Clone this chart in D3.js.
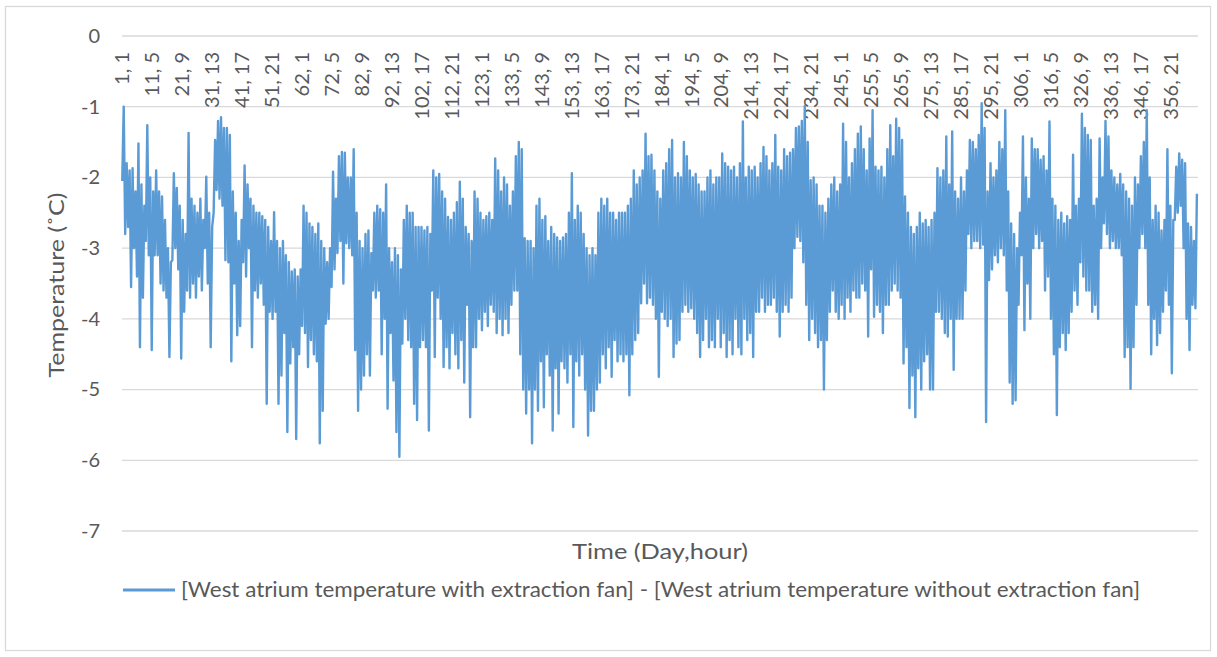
<!DOCTYPE html>
<html>
<head>
<meta charset="utf-8">
<script src="https://cdn.jsdelivr.net/npm/d3@7"></script>
<style>
  html, body { margin: 0; padding: 0; background: #ffffff; }
  svg text { font-family: Lato, "Open Sans", sans-serif; fill: #595959; }
</style>
</head>
<body>
<svg id="chart" width="1217" height="657"></svg>
<script>
// ---- data ----
const yTicks = [0, -1, -2, -3, -4, -5, -6, -7];
const tickLabels = ["1, 1","11, 5","21, 9","31, 13","41, 17","51, 21","62, 1","72, 5","82, 9","92, 13",
  "102, 17","112, 21","123, 1","133, 5","143, 9","153, 13","163, 17","173, 21","184, 1","194, 5",
  "204, 9","214, 13","224, 17","234, 21","245, 1","255, 5","265, 9","275, 13","285, 17","295, 21",
  "306, 1","316, 5","326, 9","336, 13","346, 17","356, 21"];
const hoursPerYear = 8760;
const tickStep = 244; // categories between labels
const seriesName = "[West atrium temperature with extraction fan] - [West atrium temperature without extraction fan]";

// daily maximum of the hourly series (one value per day, day 1..365)
const dailyHigh = [
 -1.0,-1.8,-1.9,-1.87,-2.2,-1.52,-2.1,-2.4,-1.26,-2.0,
 -2.2,-1.9,-2.2,-2.27,-2.6,-3.0,-3.2,-1.94,-2.15,-2.4,
 -2.6,-2.8,-1.37,-2.3,-2.4,-2.5,-2.3,-2.6,-1.99,-2.5,
 -2.7,-1.47,-1.2,-1.15,-1.3,-1.3,-1.4,-2.2,-2.5,-2.9,
 -2.6,-1.83,-2.1,-2.3,-2.4,-2.5,-2.5,-2.55,-2.6,-2.7,
 -2.9,-2.49,-2.9,-3.0,-2.9,-3.1,-3.2,-3.33,-3.3,-3.4,
 -3.3,-2.4,-2.5,-2.65,-2.7,-2.8,-2.65,-2.9,-3.0,-3.2,
 -3.0,-1.92,-2.3,-1.7,-1.64,-1.65,-2.0,-2.0,-1.6,-2.5,
 -2.9,-3.0,-2.8,-2.75,-3.07,-2.5,-2.4,-2.45,-2.5,-2.1,
 -3.0,-3.2,-3.0,-3.1,-3.3,-2.6,-2.4,-2.5,-2.5,-2.7,
 -2.7,-2.7,-2.75,-2.7,-2.8,-1.9,-2.0,-1.95,-2.2,-2.3,
 -2.56,-2.6,-2.5,-2.35,-2.06,-2.3,-2.7,-2.8,-2.9,-2.2,
 -2.3,-2.5,-2.6,-2.55,-2.5,-2.6,-1.73,-1.9,-2.2,-2.0,
 -2.1,-2.4,-2.2,-1.7,-1.5,-1.6,-2.86,-2.9,-2.9,-3.0,
 -2.4,-2.3,-2.6,-2.55,-2.9,-2.7,-2.8,-2.85,-2.9,-2.85,
 -2.8,-2.5,-1.94,-2.6,-2.4,-2.5,-2.8,-3.0,-3.1,-3.0,
 -3.1,-2.5,-2.3,-2.4,-2.3,-2.5,-2.5,-2.6,-2.5,-2.5,
 -2.5,-2.4,-2.3,-1.9,-2.1,-2.0,-1.9,-1.38,-1.7,-1.68,
 -1.9,-2.2,-2.3,-1.9,-1.8,-1.6,-1.47,-2.0,-1.94,-2.0,
 -1.5,-1.7,-1.9,-2.0,-1.95,-2.1,-2.2,-2.2,-2.0,-1.9,
 -2.1,-2.0,-2.0,-1.66,-1.8,-1.85,-1.9,-1.85,-2.0,-1.8,
 -1.21,-2.0,-1.85,-1.9,-1.85,-2.0,-1.8,-1.57,-1.7,-1.9,
 -1.8,-1.4,-1.85,-1.9,-1.6,-1.7,-1.65,-1.6,-1.3,-1.28,
 -1.2,-0.99,-1.5,-2.04,-2.0,-2.1,-2.4,-2.4,-2.5,-2.3,
 -2.1,-2.0,-2.2,-2.1,-1.24,-1.5,-2.0,-1.8,-1.6,-1.38,
 -1.28,-1.6,-1.9,-1.45,-1.05,-1.85,-1.9,-1.85,-2.0,-1.6,
 -1.26,-1.7,-1.17,-1.3,-1.47,-2.27,-2.5,-2.7,-2.8,-2.7,
 -2.5,-2.65,-2.6,-2.7,-2.6,-2.5,-1.87,-2.0,-1.9,-1.42,
 -2.1,-1.35,-2.2,-2.3,-2.0,-2.2,-1.9,-1.47,-1.5,-1.6,
 -1.4,-0.95,-1.3,-2.2,-1.8,-2.0,-1.9,-1.5,-1.6,-1.05,
 -2.2,-2.65,-2.8,-3.0,-2.5,-1.42,-2.0,-2.3,-1.45,-1.6,
 -1.6,-1.75,-1.7,-1.9,-1.21,-2.3,-2.4,-2.6,-2.5,-2.65,
 -2.55,-2.6,-1.68,-2.4,-2.3,-1.1,-1.3,-1.4,-1.47,-2.4,
 -2.3,-1.45,-2.0,-1.2,-1.42,-1.9,-2.0,-2.1,-1.95,-2.1,
 -2.2,-2.3,-2.4,-2.0,-2.1,-1.7,-1.5,-1.05,-2.0,-2.6,
 -2.4,-2.5,-2.75,-2.6,-1.6,-2.4,-2.6,-1.85,-1.66,-1.75,
 -1.8,-2.65,-2.7,-2.9,-2.23
];
// daily minimum of the hourly series
const dailyLow = [
 -2.05,-2.8,-2.7,-3.55,-3.0,-3.4,-4.4,-3.7,-2.9,-3.1,
 -4.44,-3.1,-3.1,-3.5,-3.6,-3.7,-4.54,-3.17,-3.0,-3.3,
 -4.56,-3.9,-3.6,-3.7,-3.5,-3.7,-3.4,-3.6,-3.0,-3.5,
 -4.4,-2.5,-2.18,-2.3,-2.4,-3.17,-3.2,-4.6,-3.5,-4.23,
 -4.1,-3.2,-3.4,-3.0,-4.4,-3.6,-3.7,-3.5,-3.8,-5.2,
 -3.9,-4.0,-3.9,-5.2,-4.8,-4.2,-5.6,-4.63,-4.4,-5.7,
 -4.5,-4.1,-4.2,-4.68,-4.3,-4.5,-4.6,-5.76,-5.3,-4.07,
 -4.0,-3.55,-3.3,-3.07,-2.9,-3.5,-2.93,-3.0,-3.1,-4.44,
 -5.3,-5.0,-4.8,-4.5,-4.8,-3.6,-3.7,-3.6,-4.5,-4.0,
 -5.27,-4.2,-4.87,-5.6,-5.95,-4.35,-4.0,-4.3,-4.4,-5.2,
 -5.43,-4.4,-4.3,-4.4,-5.58,-3.6,-4.54,-3.7,-4.0,-4.68,
 -4.4,-4.7,-4.2,-4.5,-4.7,-4.3,-4.9,-3.8,-5.39,-4.4,
 -4.4,-4.0,-4.16,-3.9,-4.1,-3.8,-3.9,-4.2,-4.0,-4.23,
 -4.0,-4.2,-3.8,-3.6,-3.6,-4.5,-5.0,-5.34,-5.0,-5.76,
 -5.0,-5.3,-4.6,-5.25,-4.5,-4.8,-5.58,-4.7,-5.34,-4.6,
 -4.7,-4.9,-4.5,-5.53,-4.6,-4.8,-4.5,-5.0,-5.65,-5.3,
 -5.3,-5.0,-4.9,-4.5,-4.7,-4.4,-4.82,-4.3,-4.6,-4.5,
 -4.6,-4.5,-5.08,-4.5,-4.3,-4.2,-3.78,-3.5,-3.78,-3.7,
 -3.8,-4.0,-4.82,-3.9,-4.0,-4.1,-4.0,-4.54,-4.35,-4.3,
 -3.9,-3.8,-3.9,-3.85,-4.0,-4.2,-4.54,-4.3,-4.0,-4.4,
 -4.3,-4.4,-4.0,-4.4,-4.2,-4.54,-4.3,-4.5,-4.0,-4.4,
 -4.5,-4.0,-4.3,-4.2,-4.54,-3.9,-3.9,-3.7,-3.9,-3.8,
 -3.8,-3.7,-3.9,-4.25,-3.9,-3.8,-3.9,-3.7,-3.0,-2.84,
 -2.9,-3.2,-3.8,-4.3,-4.0,-4.2,-4.4,-4.3,-5.0,-4.3,
 -3.9,-3.6,-3.9,-4.0,-3.8,-4.0,-3.7,-3.9,-3.6,-3.7,
 -3.7,-3.5,-3.6,-4.25,-3.3,-3.97,-3.8,-3.9,-4.2,-3.8,
 -3.8,-3.6,-3.5,-3.6,-3.7,-4.63,-4.4,-5.26,-4.8,-5.39,
 -4.7,-5.0,-4.6,-4.5,-5.0,-5.0,-3.9,-3.9,-4.0,-4.2,
 -4.25,-4.0,-4.72,-4.0,-4.0,-4.0,-3.6,-2.8,-3.0,-2.9,
 -2.9,-3.0,-2.95,-5.46,-3.45,-3.3,-3.1,-3.2,-3.0,-3.1,
 -3.6,-4.9,-5.2,-5.15,-3.8,-3.1,-4.16,-3.5,-4.0,-3.0,
 -2.8,-3.0,-2.9,-3.6,-3.4,-4.0,-4.5,-5.36,-4.4,-4.2,
 -4.44,-4.2,-3.9,-3.6,-3.8,-3.2,-3.4,-3.6,-3.6,-3.9,
 -3.8,-4.0,-3.0,-2.65,-2.8,-3.0,-2.9,-3.0,-3.0,-3.1,
 -4.54,-4.4,-4.99,-4.4,-3.8,-3.0,-2.8,-3.0,-3.8,-4.5,
 -4.0,-4.37,-4.2,-3.9,-3.6,-3.8,-4.77,-2.6,-2.5,-2.4,
 -3.0,-4.0,-4.44,-3.8,-3.85
];
const lowHour = 2;   // hour of day at which the daily minimum is plotted
const highHour = 14; // hour of day at which the daily maximum is plotted

// ---- build series (category index = hour of the year) ----
const series = [];
dailyLow.forEach((lo, d) => {
  series.push({ i: d * 24 + lowHour, v: lo });
  series.push({ i: d * 24 + highHour, v: dailyHigh[d] });
});

// ---- layout ----
const svg = d3.select("#chart");
const W = 1217, H = 657;
const plot = { left: 122, right: 1198, top: 36, bottom: 531 };
const lineColor = "#5b9bd5";
const gridColor = "#d9d9d9";

// chart border
svg.append("rect")
  .attr("x", 5.5).attr("y", 6.5)
  .attr("width", W - 12).attr("height", H - 13)
  .attr("fill", "#fff").attr("stroke", gridColor).attr("stroke-width", 1.3);

const x = d3.scaleLinear().domain([0, hoursPerYear - 1]).range([plot.left, plot.right]);
const y = d3.scaleLinear().domain([-7, 0]).range([plot.bottom, plot.top]);

// horizontal gridlines
svg.append("g").selectAll("line").data(yTicks).join("line")
  .attr("x1", plot.left).attr("x2", plot.right)
  .attr("y1", d => y(d)).attr("y2", d => y(d))
  .attr("stroke", gridColor).attr("stroke-width", 1.3);

// y-axis labels
const yAxis = d3.axisLeft(y).tickValues(yTicks).tickSize(0).tickPadding(0).tickFormat(d3.format("d"));
const gy = svg.append("g").attr("transform", `translate(${plot.left - 22},0)`).call(yAxis);
gy.select(".domain").remove();
gy.selectAll("text").style("font-size", "20px").attr("fill", "#595959").style("font-family", "Lato, 'Open Sans', sans-serif")
  .text(d => d === 0 ? "0" : "-" + Math.abs(d));

// category labels (rotated, below the 0 line)
const tickIdx = tickLabels.map((t, k) => k * tickStep);
svg.append("g").selectAll("text").data(tickLabels).join("text")
  .attr("transform", (t, k) => `translate(${x(tickIdx[k])},52) rotate(-90)`)
  .attr("text-anchor", "end")
  .attr("dy", "0.35em")
  .style("font-size", "20px")
  .text(t => t);

// series line
const line = d3.line().x(d => x(d.i)).y(d => y(d.v));
svg.append("path").datum(series)
  .attr("d", line)
  .attr("fill", "none")
  .attr("stroke", lineColor)
  .attr("stroke-width", 2.4)
  .attr("stroke-linejoin", "round");

// axis titles
svg.append("text")
  .attr("x", (plot.left + plot.right) / 2).attr("y", 559)
  .attr("text-anchor", "middle")
  .style("font-size", "22px")
  .attr("textLength", 176).attr("lengthAdjust", "spacingAndGlyphs")
  .text("Time (Day,hour)");

svg.append("text")
  .attr("transform", "translate(64,285) rotate(-90)")
  .attr("text-anchor", "middle")
  .style("font-size", "22px")
  .attr("textLength", 185).attr("lengthAdjust", "spacingAndGlyphs")
  .text("Temperature (˚C)");

// legend
svg.append("line")
  .attr("x1", 123).attr("x2", 175).attr("y1", 590).attr("y2", 590)
  .attr("stroke", lineColor).attr("stroke-width", 3);
svg.append("text")
  .attr("x", 181).attr("y", 590).attr("dy", "0.35em")
  .style("font-size", "21px")
  .attr("textLength", 959).attr("lengthAdjust", "spacingAndGlyphs")
  .text(seriesName);
</script>
</body>
</html>
